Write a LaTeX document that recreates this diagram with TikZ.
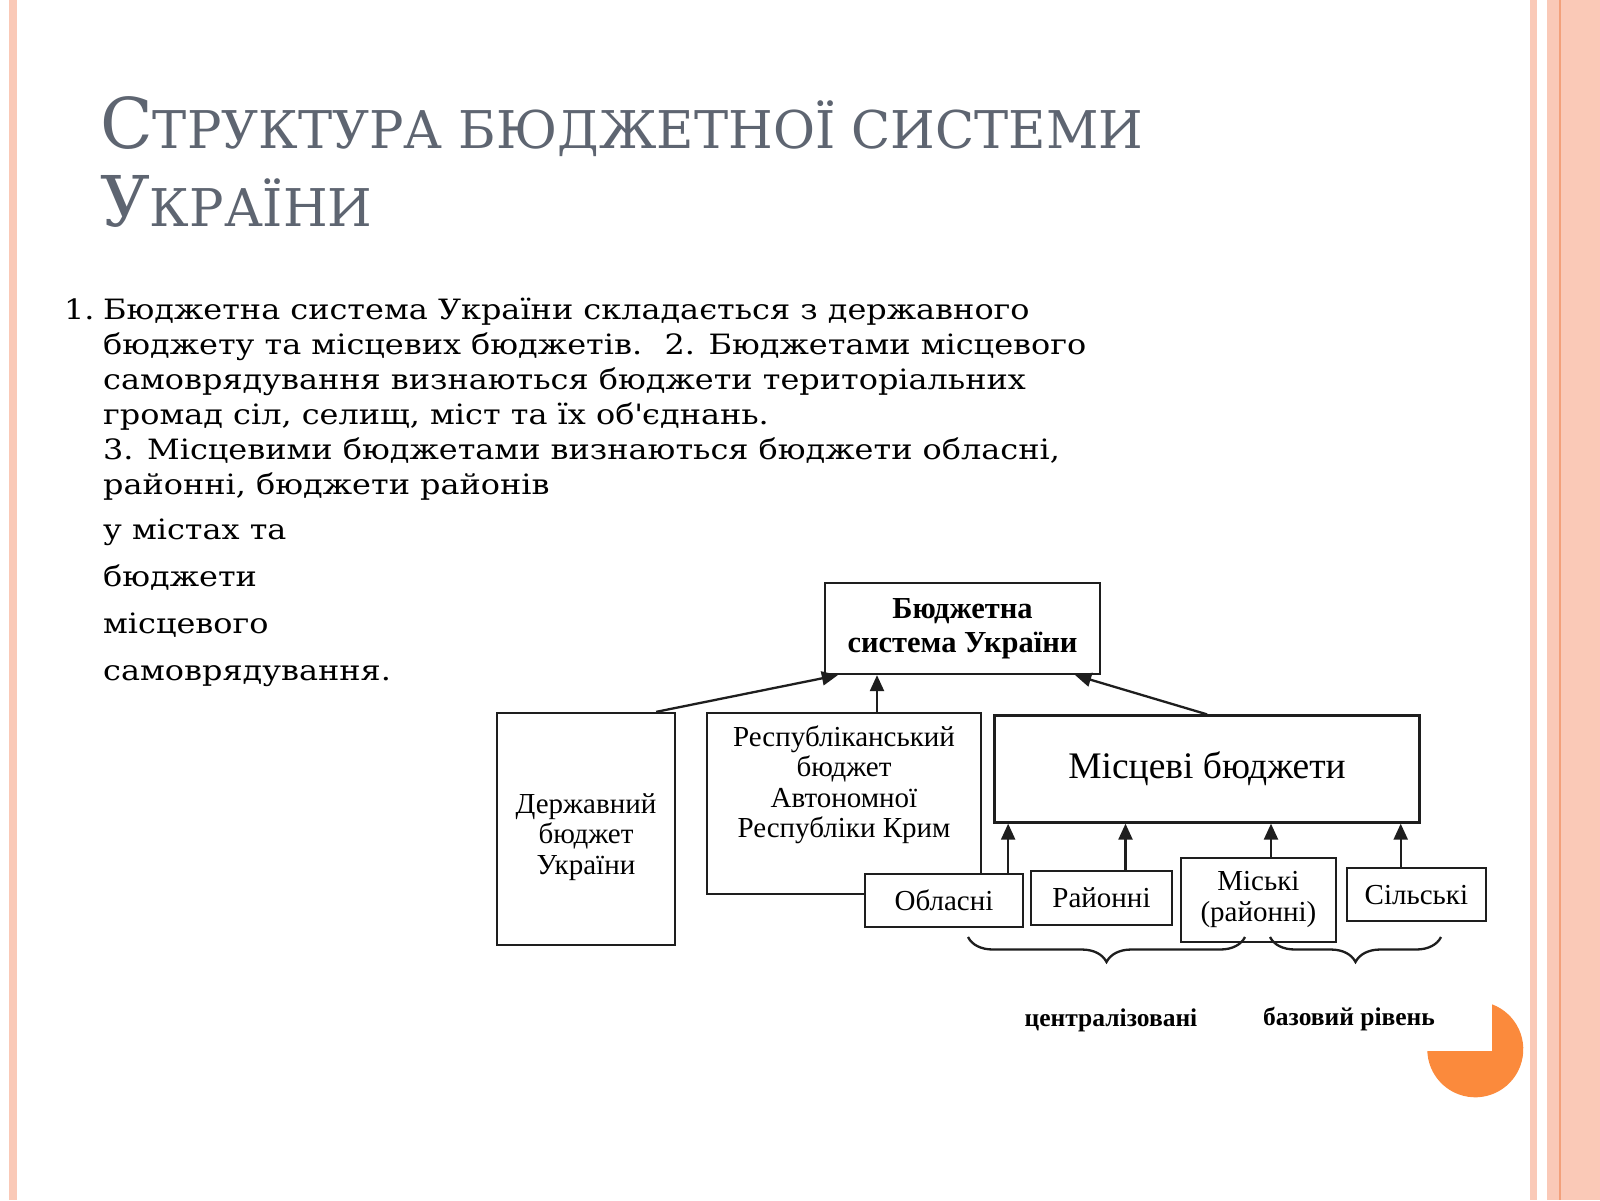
\documentclass[tikz,border=0pt]{standalone}
\usepackage{fontspec}
\setmainfont{DejaVu Serif}
\newfontfamily\bodyfont[FakeStretch=1.14]{DejaVu Serif}
\newfontfamily\titlefont[FakeStretch=0.985]{DejaVu Serif}
\newfontfamily\schemefont{Liberation Serif}
\usetikzlibrary{arrows.meta,calc,decorations.pathreplacing,positioning}

\definecolor{titlegray}{RGB}{94,101,113}
\definecolor{stripepink}{RGB}{250,201,183}
\definecolor{stripeline}{RGB}{243,160,122}
\definecolor{cornerorange}{RGB}{251,138,60}
\definecolor{inkgray}{RGB}{30,30,30}

\newcommand{\titlecap}[1]{{\fontsize{70}{70}\selectfont #1}}

\tikzset{every picture/.style={line width=2.3pt},
  budgetbox/.style={draw=inkgray, fill=white, inner sep=0pt, align=center,
    font=\schemefont\fontsize{29}{30.5}\selectfont},
  boxtext/.style={inner sep=0pt, align=center, font=\schemefont\fontsize{29}{30.5}\selectfont},
  grouplabel/.style={inner sep=0pt, font=\schemefont\bfseries\fontsize{25.5}{25.5}\selectfont},
  uparrow/.style={draw=inkgray, -{Triangle[length=16pt,width=14pt]}},
  groupbrace/.style={draw=inkgray, decorate, decoration={brace, amplitude=25pt, mirror}},
}

\begin{document}
\begin{tikzpicture}[x=1pt,y=1pt,yscale=-1,xscale=1]
\useasboundingbox (0,0) rectangle (1600,1200);
\fill[white] (0,0) rectangle (1600,1200);

%Slide border
\fill[stripepink] (9,0) rectangle (17,1200);
\fill[stripepink] (1530,0) rectangle (1537,1200);
\fill[stripepink] (1547,0) rectangle (1600,1200);
\fill[stripeline] (1558.5,0) rectangle (1561,1200);

%Corner mark
\fill[cornerorange] (1492,1051) -- (1492,1004.3) arc[start angle=-69.6, end angle=177.97, radius=48] -- cycle;

% Title
\node (title1) [anchor=base west, inner sep=0pt, text=titlegray, font=\titlefont\fontsize{52}{52}\selectfont]
  at (99,148) {\titlecap{С}ТРУКТУРА БЮДЖЕТНОЇ СИСТЕМИ};
\node (title2) [anchor=base west, inner sep=0pt, text=titlegray, font=\titlefont\fontsize{52}{52}\selectfont]
  at (99,226.5) {\titlecap{У}КРАЇНИ};

% Body text
\node (num1) [anchor=base west, inner sep=0pt, font=\bodyfont\fontsize{28}{35}\selectfont] at (63,319) {1.};
\node (para1) [anchor=base west, inner sep=0pt, align=left, font=\bodyfont\fontsize{28}{35}\selectfont] at (102,494)
  {Бюджетна система України складається з державного\\
   бюджету та місцевих бюджетів.\hspace{9pt} 2. Бюджетами місцевого\\
   самоврядування визнаються бюджети територіальних\\
   громад сіл, селищ, міст та їх об\textquotesingle єднань.\\
   3. Місцевими бюджетами визнаються бюджети обласні,\\
   районні, бюджети районів};
\node (para2) [anchor=base west, inner sep=0pt, align=left, font=\bodyfont\fontsize{28}{47}\selectfont] at (102,680)
  {у містах та\\ бюджети\\ місцевого\\ самоврядування.};

% Scheme boxes
\node (top) [budgetbox, minimum width=275, minimum height=91,
  font=\schemefont\bfseries\fontsize{30.5}{34}\selectfont] at (962.5,628.5) {Бюджетна\\ система України};
\node (derzh) [budgetbox, minimum width=178, minimum height=232] at (586,829) {};
\node (derzhtext) [boxtext] at ($(derzh.center)+(0,8)$) {Державний\\ бюджет\\ України};
\node (resp) [budgetbox, minimum width=274, minimum height=181] at (844,803.5) {};
\node (resptext) [boxtext, anchor=north] at ($(resp.north)+(0,12.5)$)
  {Республіканський\\ бюджет\\ Автономної\\ Республіки Крим};
\node (misc) [budgetbox, minimum width=425, minimum height=107,
  font=\schemefont\fontsize{37.5}{37.5}\selectfont] at (1207,769) {Місцеві бюджети};

\node (obl) [budgetbox, minimum width=158, minimum height=52.4] at (944,900.5) {Обласні};
\node (rai) [budgetbox, minimum width=141, minimum height=54] at (1101.5,898) {Районні};
\node (mis) [budgetbox, minimum width=155, minimum height=84] at (1258.4,899.7) {Міські\\ (районні)};
\node (sil) [budgetbox, minimum width=139, minimum height=53] at (1416.4,894.7) {Сільські};

% Arrows to the top box
\coordinate (respA) at ($(resp.north)+(33,0)$);
\draw[uparrow] ($(derzh.north east)+(-20,0)$) -- ($(top.south west)+(14,0)$);
\draw[uparrow] (respA) -- (respA |- top.south);
\draw[uparrow] (misc.north) -- ($(top.south east)+(-26,0)$);

% Arrows to the local budgets
\coordinate (oblA) at ($(obl.north east)+(-16,0)$);
\coordinate (raiA) at ($(rai.north)+(24,0)$);
\coordinate (misA) at ($(mis.north)+(12.6,0)$);
\coordinate (silA) at ($(sil.north)+(-15.7,0)$);
\foreach \src in {oblA,raiA,misA,silA}
  \draw[uparrow] (\src) -- (\src |- misc.south);

% Braces
\coordinate (bc1) at (968,937);
\coordinate (bc2) at (1245,937);
\coordinate (bb1) at (1270,937);
\coordinate (bb2) at (1441,937);
\draw[groupbrace] (bc1) -- (bc2);
\draw[groupbrace] (bb1) -- (bb2);

\node (central) [grouplabel, anchor=base] at (1111,1026.5) {централізовані};
\node (basic) [grouplabel, anchor=base] at (1349,1025) {базовий рівень};

\end{tikzpicture}
\end{document}
